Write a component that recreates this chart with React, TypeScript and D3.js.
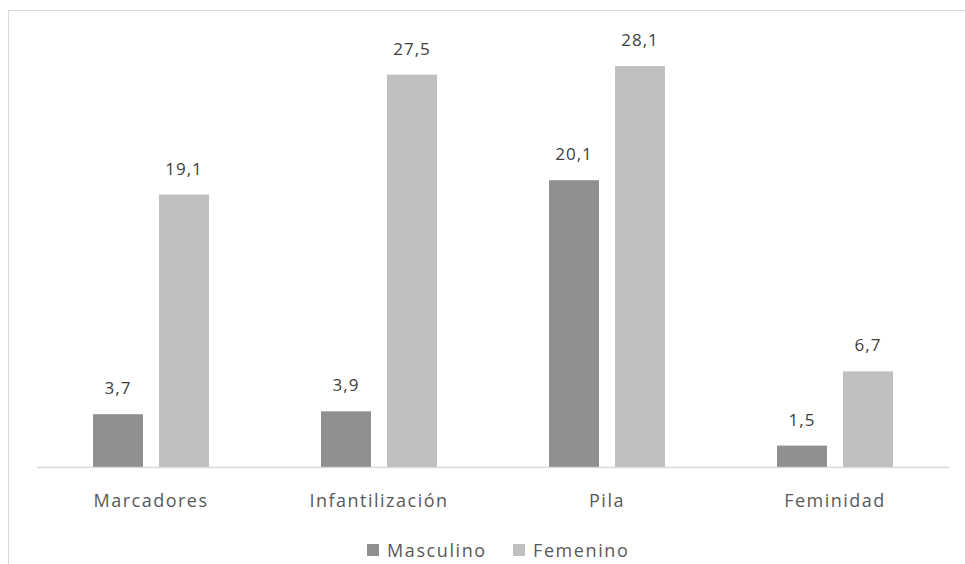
import React from "react";
import * as d3 from "d3";

const categories = ["Marcadores", "Infantilización", "Pila", "Feminidad"];
const seriesNames = ["Masculino", "Femenino"];
const masculino = [3.7, 3.9, 20.1, 1.5];
const femenino = [19.1, 27.5, 28.1, 6.7];
const colors = ["#8f8f8f", "#bfbfbf"];

const W = 965;
const H = 564;
const plot = { left: 37, right: 949, top: 39, bottom: 467 };

export default function App() {
  const x = d3.scaleBand<string>().domain(categories).range([plot.left, plot.right]);
  const y = d3.scaleLinear().domain([0, 30]).range([plot.bottom, plot.top]);
  const barW = 50;
  const gap = 16;
  const series = [masculino, femenino];
  const fmt = (v: number) => v.toFixed(1).replace(".", ",");
  const font = "'Open Sans', 'DejaVu Sans', sans-serif";
  const textColor = "#595959";

  return (
    <svg
      width={W}
      height={H}
      style={{ position: "absolute", left: 0, top: 0, background: "#fff" }}
      fontFamily={font}
    >
      <rect x={8.5} y={10.5} width={W + 10} height={H + 10} fill="#fff" stroke="#d9d9d9" strokeWidth={1} />
      {series.map((vals, si) =>
        categories.map((c, ci) => {
          const cx = (x(c) as number) + x.bandwidth() / 2;
          const bx = si === 0 ? cx - gap / 2 - barW : cx + gap / 2;
          const v = vals[ci];
          return (
            <g key={`${si}-${ci}`}>
              <rect x={bx} y={y(v)} width={barW} height={y(0) - y(v)} fill={colors[si]} />
              <text
                x={bx + barW / 2}
                y={y(v) - 20}
                textAnchor="middle"
                fontSize={17}
                fill="#404040"
                letterSpacing={1}
              >
                {fmt(v)}
              </text>
            </g>
          );
        })
      )}
      <line x1={plot.left} x2={plot.right} y1={plot.bottom + 0.5} y2={plot.bottom + 0.5} stroke="#d9d9d9" strokeWidth={1.5} />
      {categories.map((c) => (
        <text
          key={c}
          x={(x(c) as number) + x.bandwidth() / 2}
          y={507}
          textAnchor="middle"
          fontSize={18}
          fill={textColor}
          letterSpacing={1.5}
        >
          {c}
        </text>
      ))}
      {seriesNames.map((n, i) => {
        const lx = [367, 513][i];
        return (
          <g key={n}>
            <rect x={lx} y={544} width={12} height={12} fill={colors[i]} />
            <text x={lx + 20} y={557} fontSize={18} fill={textColor} letterSpacing={1.6}>
              {n}
            </text>
          </g>
        );
      })}
    </svg>
  );
}
